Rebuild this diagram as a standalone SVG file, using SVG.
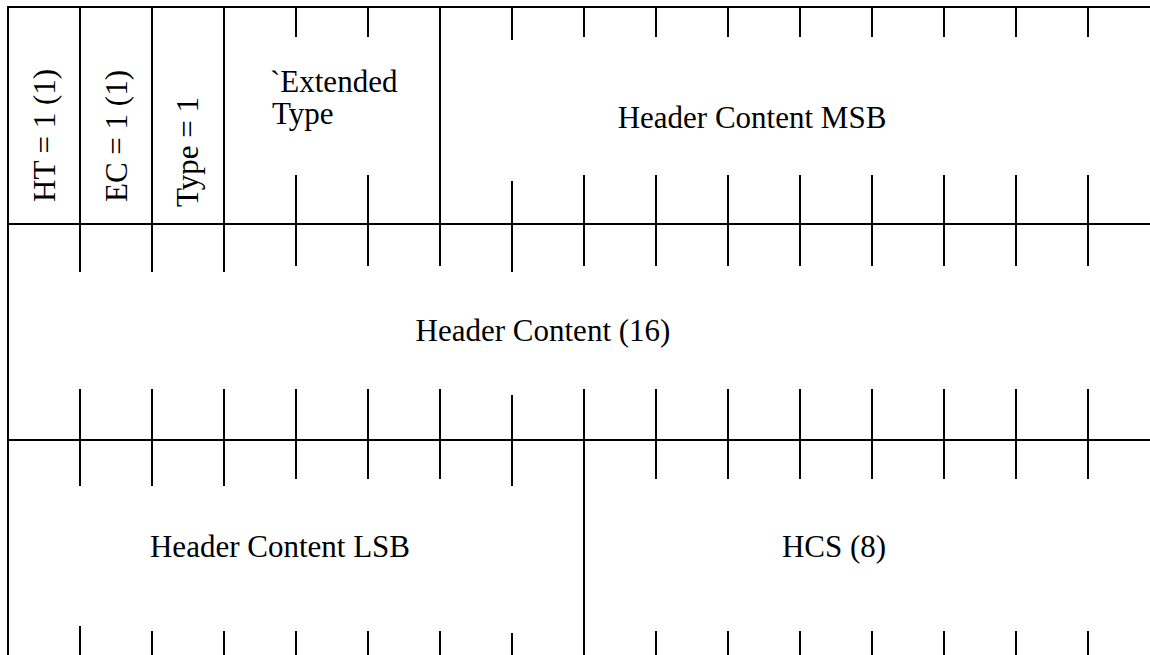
<svg xmlns="http://www.w3.org/2000/svg" width="1150" height="655" viewBox="0 0 1150 655">
<style>
.ln{stroke:#000;stroke-width:2;fill:none}
.t{font-family:"Liberation Serif","Times New Roman",serif;font-size:31px;fill:#000}
.c{text-anchor:middle}
</style>
<rect x="0" y="0" width="1150" height="655" fill="#fff"/>
<g id="grid">
<path class="ln" d="M7,7H1150M8,224H1150M8,440H1150M8,6V655"/>
<path class="ln" d="M80,7V224M152,7V224M224,7V224M440,7V224M584,440V655"/>
<path class="ln" d="M296,7V37M368,7V37M512,7V40M584,7V37M656,7V37M728,7V37M800,7V37M872,7V37M944,7V37M1016,7V37M1088,7V37"/>
<path class="ln" d="M296,175V224M368,175V224M512,181V224M584,175V224M656,175V224M728,175V224M800,175V224M872,175V224M944,175V224M1016,175V224M1088,175V224"/>
<path class="ln" d="M80,224V272M152,224V272M224,224V272M296,224V266M368,224V266M440,224V266M512,224V272M584,224V266M656,224V266M728,224V266M800,224V266M872,224V266M944,224V266M1016,224V266M1088,224V266"/>
<path class="ln" d="M80,389V440M152,389V440M224,389V440M296,389V440M368,389V440M440,389V440M512,395V440M584,389V440M656,389V440M728,389V440M800,389V440M872,389V440M944,389V440M1016,389V440M1088,389V440"/>
<path class="ln" d="M80,440V486M152,440V486M224,440V486M296,440V479M368,440V479M440,440V479M512,440V486M656,440V479M728,440V479M800,440V479M872,440V479M944,440V479M1016,440V479M1088,440V479"/>
<path class="ln" d="M80,626V655M152,631V655M224,631V655M296,631V655M368,631V655M440,631V655M512,633V655M656,631V655M728,631V655M800,631V655M872,631V655M944,631V655M1016,631V655M1088,631V655"/>
</g>
<g id="connectors"/>
<g id="field-ht"><text class="t" transform="translate(55,202) rotate(-90)">HT = 1 (1)</text></g>
<g id="field-ec"><text class="t" transform="translate(127,202) rotate(-90)">EC = 1 (1)</text></g>
<g id="field-type"><text class="t" transform="translate(198,207) rotate(-90)">Type = 1</text></g>
<g id="field-exttype"><text class="t" x="270" y="92">`Extended</text><text class="t" x="272" y="124">Type</text></g>
<g id="field-hc-msb"><text class="t c" x="752" y="128">Header Content MSB</text></g>
<g id="field-hc16"><text class="t c" x="543" y="341">Header Content (16)</text></g>
<g id="field-hc-lsb"><text class="t c" x="280" y="557">Header Content LSB</text></g>
<g id="field-hcs"><text class="t c" x="834" y="557">HCS (8)</text></g>
</svg>
